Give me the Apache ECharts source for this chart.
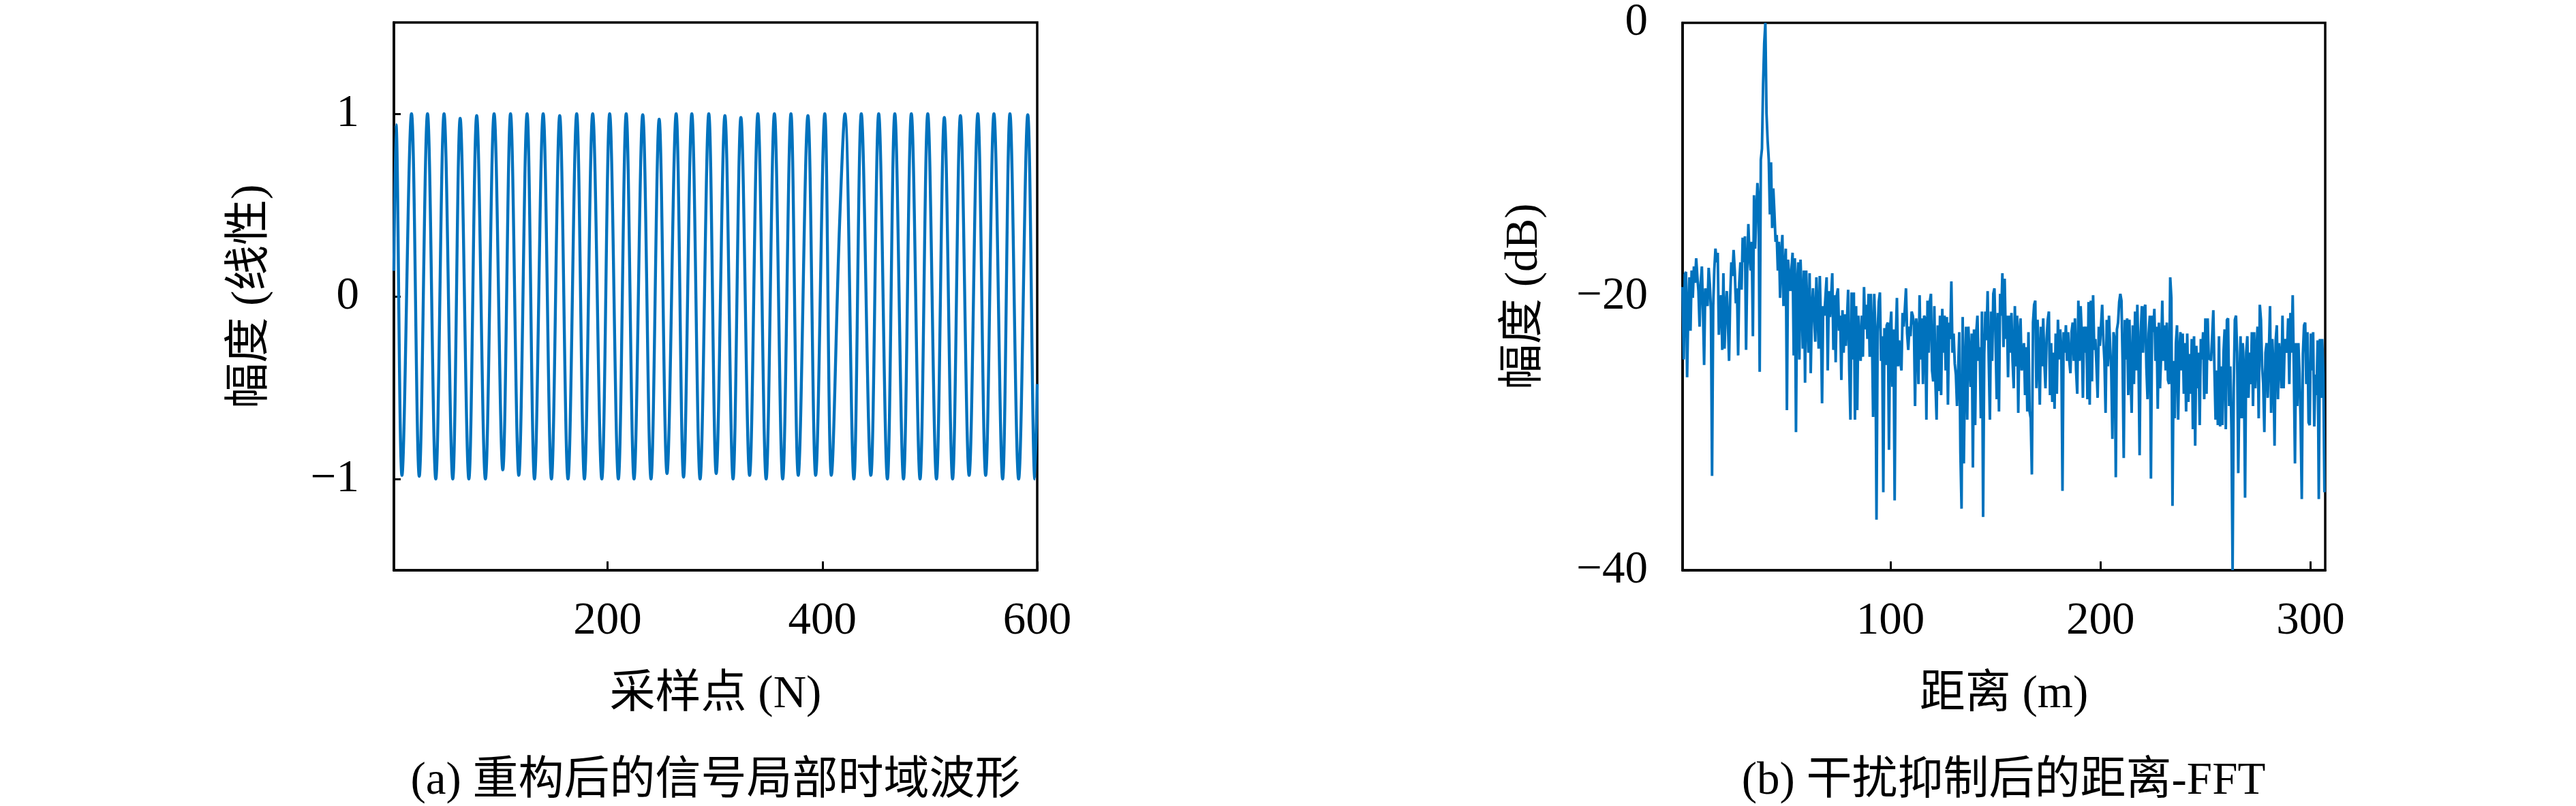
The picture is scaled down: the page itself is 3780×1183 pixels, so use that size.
<!DOCTYPE html>
<html>
<head>
<meta charset="utf-8">
<script src="https://cdn.jsdelivr.net/npm/echarts@6/dist/echarts.min.js"></script>
<style>
html,body{margin:0;padding:0;background:#fff;}
#chart{width:3780px;height:1183px;}
</style>
</head>
<body>
<div id="chart"></div>
<script>
// ---------- (a) reconstructed signal: extreme points ----------
const sampleTicks = [200, 400, 600];
const ampTicks = [-1, 0, 1];
const waveSample = [1, 3, 8.5, 17.4, 24.6, 32.3, 40.0, 47.7, 55.8, 62.7, 70.8, 78.1, 86.2, 94.3, 102.4, 109.6,
  117.3, 125.0, 131.9, 140.0, 147.7, 155.4, 163.1, 171.2, 178.4, 186.1, 194.6, 201.9, 210.0, 217.3, 224.6,
  232.7, 240.4, 248.0, 255.3, 263.8, 270.7, 278.4, 286.1, 294.2, 301.1, 309.2, 316.8, 324.1, 332.2, 339.9,
  347.6, 355.3, 363.0, 370.7, 377.5, 386.5, 393.7, 402.2, 408.3, 416.0, 420.9, 429.3, 436.2, 445.1, 452.4,
  460.5, 467.4, 475.5, 482.8, 490.9, 498.1, 506.2, 513.5, 521.2, 528.5, 536.6, 544.7, 552.0, 559.7, 567.8,
  574.6, 582.7, 591.2, 597.8, 600];
const waveAmp = [0.14, 0.94, -0.98, 1.0, -0.985, 1.0, -1.0, 1.0, -1.0, 0.975, -1.0, 0.99, -1.0, 1.0, -0.95, 1.0,
  -0.98, 1.0, -1.0, 1.0, -1.0, 0.99, -1.0, 1.0, -1.0, 1.0, -1.0, 1.0, -1.0, 1.0, -1.0,
  0.995, -1.0, 0.97, -0.97, 1.0, -0.99, 1.0, -1.0, 1.0, -0.97, 0.99, -1.0, 0.98, -0.98, 1.0,
  -1.0, 1.0, -1.0, 1.0, -0.98, 0.99, -0.98, 1.0, -0.98, 0.4, 1.0, -1.0, 1.0, -0.98, 1.0,
  -1.0, 1.0, -1.0, 1.0, -1.0, 1.0, -1.0, 0.98, -1.0, 0.99, -0.98, 1.0, -0.98, 1.0, -1.0,
  1.0, -1.0, 0.995, -1.0, -0.48];

// ---------- (b) range FFT after interference suppression (dB), bins from 1 m, 0.54 m apart ----------
const rangeTicks = [100, 200, 300];
const dbTicks = [-40, -20, 0];
const rangeStartM = 1;
const rangeStepM = 0.54;
const fftDbA = [
  -19.3,-24.6,-18.4,-18.2,-25.9,-21.0,-18.6,-22.5,-18.1,-20.1,
  -17.8,-19.0,-17.2,-18.5,-19.6,-22.2,-19.0,-17.8,-21.0,-25.0,
  -19.4,-20.0,-20.7,-17.9,-19.1,-21.0,-33.1,-20.7,-18.0,-16.5,
  -17.5,-16.8,-22.8,-20.5,-19.9,-23.9,-18.3,-23.8,-21.0,-19.6,
  -22.0,-24.7,-20.0,-17.5,-18.5,-16.6,-18.1,-20.5,-19.4,-24.3,
  -19.0,-17.5,-19.5,-15.7,-17.5,-15.6,-23.9,-18.0,-14.7,-17.0,
  -18.1,-16.0,-22.9,-12.6,-16.5,-14.0,-11.7,-13.0,-25.5,-10.0,
  -9.2,-4.5,-1.5,0,-6.6,-8.6,-10.0,-14.0,-10.2,-15.0,
  -12.1,-13.9,-16.0,-15.5,-18.1,-16.0,-20.1,-17.0,-15.5,-20.7,
  -18.0,-16.5,-28.3,-17.3,-18.5,-19.6,-18.0,-16.8,-24.3,-17.2,
  -29.9,-19.0,-17.5,-24.6,-17.3,-20.0,-23.8,-18.1,-26.3,-18.1,
  -21.0,-24.1,-18.3,-25.6,-21.0,-19.4,-21.5,-23.3,-18.6,-21.0,
  -23.8,-18.5,-22.0,-27.8,-20.7,-21.4,-20.0,-18.6,-25.4,-19.6,
  -21.5,-20.0,-18.3,-23.9,-19.9,-24.8,-19.9,-19.4,-22.5];
const fftDbB = [
  -21.4,-26.1,-21.0,-24.1,-21.3,-23.6,-21.7,-19.5,-25.4,-29.0,
  -19.7,-24.6,-19.7,-29.0,-20.7,-28.3,-21.4,-23.1,-24.7,-21.4,
  -24.4,-19.3,-22.4,-20.6,-23.1,-19.8,-24.4,-19.8,-22.6,-28.8,
  -19.8,-22.6,-36.3,-22.6,-20.4,-19.7,-24.7,-22.9,-34.3,-22.3,
  -25.0,-22.1,-21.9,-31.2,-22.4,-21.1,-26.6,-22.4,-34.9,-23.1,
  -20.1,-25.1,-23.2,-24.7,-25.4,-21.2,-22.2,-20.9,-19.4,-22.7,
  -23.9,-22.2,-22.9,-21.1,-21.4,-22.1,-28.0,-21.6,-22.6,-26.4,
  -19.9,-24.6,-21.6,-26.4,-21.4,-21.6,-29.0,-20.3,-24.1,-20.4,
  -19.8,-25.4,-26.2,-20.7,-26.4,-29.0,-22.1,-26.9,-21.4,-27.2,
  -20.9,-24.1,-21.4,-25.4,-21.5,-27.9,-21.9,-23.1,-18.9,-24.1,
  -22.7,-24.9,-25.7,-28.0,-25.4,-22.6,-31.4,-35.5,-21.5,-32.2,
  -25.4,-22.2,-29.0,-22.2,-24.4,-26.6,-22.7,-32.5,-22.4,-29.4,
  -22.6,-21.4,-24.7,-23.7,-28.9,-21.1,-36.1,-24.2,-21.1,-23.2,
  -19.6,-24.7,-29.0,-21.1,-24.7,-19.8,-19.4,-23.1,-27.5,-21.2,
  -28.4,-19.8,-21.4,-18.3,-23.7,-18.7,-23.1,-21.4,-25.9,-21.4];
const fftDbC = [
  -24.1,-21.2,-24.7,-26.7,-20.7,-25.1,-21.4,-28.5,-22.7,-21.6,
  -25.4,-24.7,-23.4,-27.2,-23.7,-28.4,-22.6,-28.4,-28.9,-33.0,
  -21.9,-20.6,-20.3,-26.7,-21.7,-24.4,-27.9,-22.2,-25.1,-21.6,
  -24.7,-26.7,-23.1,-21.7,-21.1,-27.2,-23.4,-27.7,-24.1,-28.2,
  -22.7,-27.1,-21.7,-24.6,-22.4,-23.9,-34.2,-22.6,-24.1,-22.1,
  -24.7,-22.6,-24.7,-25.6,-22.6,-21.9,-24.7,-21.6,-25.4,-27.1,
  -20.3,-24.7,-20.7,-22.7,-27.4,-22.2,-24.1,-22.2,-27.5,-20.4,
  -27.9,-20.3,-26.2,-19.9,-23.9,-23.1,-25.1,-27.4,-22.2,-23.6,
  -22.1,-20.6,-23.1,-24.7,-28.5,-21.7,-25.1,-21.4,-23.6,-25.4,
  -30.4,-22.6,-23.1,-33.2,-22.4,-21.9,-20.4,-19.8,-20.3,-24.7,
  -31.8,-21.7,-24.6,-21.6,-27.2,-21.7,-25.4,-28.5,-22.1,-26.4,
  -21.1,-25.4,-20.6,-24.4,-31.6,-22.6,-20.7,-24.1,-20.9,-20.6,
  -25.2,-27.5,-22.7,-21.4,-33.3,-21.4,-22.6,-20.9,-24.7,-22.2,
  -28.2,-21.9,-26.7,-24.2,-20.3,-24.7,-22.1,-25.4,-21.9,-26.1,
  -26.4,-18.6,-20.1,-35.3];
const fftDbD = [
  -24.7,-28.9,-23.4,-22.1,-29.0,-24.1,-22.6,-25.4,-22.7,-27.1,
  -23.4,-28.4,-22.7,-27.7,-24.2,-27.1,-23.1,-29.7,-22.9,-30.9,
  -23.6,-26.7,-24.1,-29.4,-23.1,-24.6,-22.6,-27.5,-21.6,-27.1,
  -21.6,-24.6,-24.4,-24.7,-22.9,-21.0,-25.4,-29.0,-25.4,-29.4,
  -22.9,-29.5,-25.1,-29.4,-24.1,-22.4,-29.7,-21.7,-21.6,-28.0,
  -25.1,-29.7,-40.0,-26.7,-21.7,-21.4,-24.1,-32.9,-26.4,-22.9,
  -28.9,-23.4,-25.4,-34.7,-24.1,-22.9,-27.4,-24.1,-26.4,-22.6,
  -28.0,-22.6,-26.7,-24.1,-22.2,-28.9,-20.6,-21.7,-25.1,-26.4,
  -29.9,-24.1,-23.4,-27.4,-24.1,-20.7,-28.5,-23.1,-25.1,-30.9,
  -23.2,-22.1,-27.5,-23.4,-24.7,-26.7,-21.4,-26.7,-23.1,-23.7,
  -24.1,-21.6,-26.4,-21.2,-24.1,-19.9,-25.4,-32.2,-23.4,-28.0,
  -23.4,-25.6,-29.2,-34.8,-24.2,-22.1,-21.9,-26.4,-22.6,-29.2,
  -29.4,-22.7,-25.4,-22.6,-29.5,-25.7,-27.2,-23.2,-34.8,-23.1,
  -27.4,-23.1,-25.6,-34.3];

// ---------- build ----------
const FONT = '"Liberation Serif", "Noto Sans CJK SC", serif';
const FS = 67;
const BLUE = '#0072BD';
const minus = v => String(v).replace('-', '\u2212');

const waveData = waveSample.map((s, i) => [s, waveAmp[i]]);
const fftDb = fftDbA.concat(fftDbB, fftDbC, fftDbD);
const fftData = fftDb.map((v, i) => [rangeStartM + i * rangeStepM, v]);

const txt = {fontFamily: FONT, fontSize: FS, color: '#000'};

function xAxisCfg(grid, min, max, ticks, name) {
  return {
    type: 'value', gridIndex: grid, min: min, max: max,
    name: name, nameLocation: 'middle', nameGap: 150, nameTextStyle: txt,
    axisLine: {show: true, onZero: false, lineStyle: {color: '#000', width: 3.5}},
    axisTick: {show: true, inside: true, length: 13, customValues: ticks, lineStyle: {color: '#000', width: 3}},
    axisLabel: {customValues: ticks, margin: 42, formatter: minus, ...txt},
    splitLine: {show: false}
  };
}
function yAxisCfg(grid, min, max, ticks, name, gap) {
  return {
    type: 'value', gridIndex: grid, min: min, max: max,
    name: name, nameLocation: 'middle', nameGap: gap, nameTextStyle: txt,
    axisLine: {show: true, onZero: false, lineStyle: {color: '#000', width: 3.5}},
    axisTick: {show: true, inside: true, length: 10, customValues: ticks, lineStyle: {color: '#000', width: 3}},
    axisLabel: {customValues: ticks, margin: 51, formatter: minus, ...txt},
    splitLine: {show: false}
  };
}

const chart = echarts.init(document.getElementById('chart'), null, {renderer: 'canvas', width: 3780, height: 1183});
chart.setOption({
  backgroundColor: '#fff',
  animation: false,
  grid: [
    {left: 578, top: 33, width: 944, height: 804, show: true, borderColor: '#000', borderWidth: 3.5, containLabel: false},
    {left: 2469, top: 33, width: 943, height: 804, show: true, borderColor: '#000', borderWidth: 3.5, containLabel: false}
  ],
  xAxis: [
    xAxisCfg(0, 1, 600, sampleTicks, '采样点 (N)'),
    xAxisCfg(1, 1, 307, rangeTicks, '距离 (m)')
  ],
  yAxis: [
    yAxisCfg(0, -1.5, 1.5, ampTicks, '幅度 (线性)', 176),
    yAxisCfg(1, -40, 0, dbTicks, '幅度 (dB)', 198)
  ],
  series: [
    {type: 'line', xAxisIndex: 0, yAxisIndex: 0, data: waveData, smooth: 0.36, showSymbol: false,
     lineStyle: {color: BLUE, width: 4.4}, z: 5, clip: true},
    {type: 'line', xAxisIndex: 1, yAxisIndex: 1, data: fftData, showSymbol: false,
     lineStyle: {color: BLUE, width: 3.9}, z: 5, clip: true}
  ],
  graphic: [
    {type: 'text', x: 1050, y: 1147, style: {text: '(a) 重构后的信号局部时域波形', font: FS + 'px ' + FONT,
      fill: '#000', textAlign: 'center', textVerticalAlign: 'middle'}},
    {type: 'text', x: 2940, y: 1147, style: {text: '(b) 干扰抑制后的距离-FFT', font: FS + 'px ' + FONT,
      fill: '#000', textAlign: 'center', textVerticalAlign: 'middle'}}
  ]
});
</script>
</body>
</html>
